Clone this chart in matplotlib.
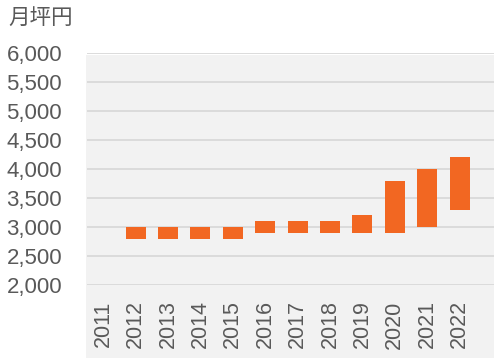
import matplotlib
matplotlib.use("Agg")
import matplotlib.pyplot as plt
from matplotlib.patches import Rectangle
import numpy as np

years = ["2011", "2012", "2013", "2014", "2015", "2016", "2017",
         "2018", "2019", "2020", "2021", "2022"]
low = [np.nan, 2800, 2800, 2800, 2800, 2900, 2900, 2900, 2900, 2900, 3000, 3300]
high = [np.nan, 3000, 3000, 3000, 3000, 3100, 3100, 3100, 3200, 3800, 4000, 4200]
yticks = [2000, 2500, 3000, 3500, 4000, 4500, 5000, 5500, 6000]

W, H = 494, 358
fig = plt.figure(figsize=(W / 100, H / 100), dpi=100)
fig.patch.set_facecolor("white")

# gray panel behind plot and x labels
fig.patches.append(Rectangle((86 / W, 0), 1, 1 - 55 / H, transform=fig.transFigure,
                             facecolor="#f2f2f2", edgecolor="none", zorder=-5))

ax = fig.add_axes([87 / W, 1 - 285 / H, 407 / W, 232 / H])
ax.set_facecolor("none")

x = np.arange(len(years))
lo = np.array(low, dtype=float)
hi = np.array(high, dtype=float)
ax.bar(x, hi - lo, bottom=lo, width=0.62, color="#f26722", zorder=3)

ax.set_ylim(2000, 6000)
ax.set_xlim(-0.5, 12.06)
ax.set_yticks(yticks)
ax.set_yticklabels([f"{v:,}" for v in yticks])
ax.set_xticks(x)
ax.set_xticklabels(years, rotation=90)
ax.grid(axis="y", color="#d9d9d9", linewidth=1.3, zorder=1)
ax.set_axisbelow(True)
for s in ax.spines.values():
    s.set_visible(False)
ax.tick_params(axis="both", length=0, colors="#595959", labelsize=15.5)
ax.tick_params(axis="y", pad=18, labelsize=16)
ax.tick_params(axis="x", pad=11)
for lab in ax.get_xticklabels() + ax.get_yticklabels():
    lab.set_family(["Liberation Sans", "DejaVu Sans"])

fig.text(8 / W, 1 - 18 / H, "月坪円", ha="left", va="center", fontsize=15.5,
         color="#595959", family=["Noto Sans CJK JP", "DejaVu Sans"])

fig.savefig("out.png", dpi=100)
